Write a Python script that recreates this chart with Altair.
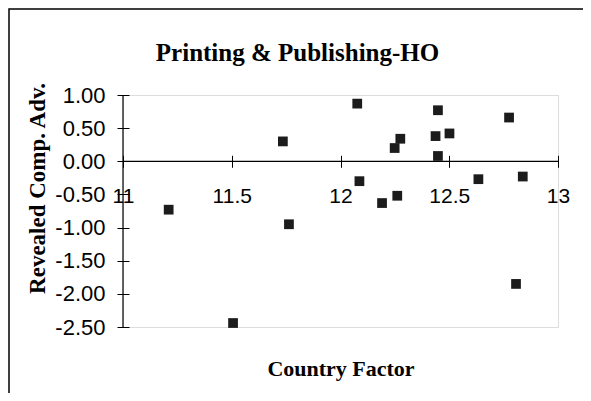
import altair as alt
import pandas as pd

# Data
country_factor = [11.21, 11.735, 11.763, 12.077, 12.087, 12.191, 12.249, 12.261, 12.275,
                  12.437, 12.448, 12.448, 12.501, 12.634, 12.775, 12.838, 12.807, 11.506]
revealed_ca = [-0.73, 0.30, -0.95, 0.87, -0.30, -0.63, 0.20, -0.52, 0.34,
               0.38, 0.77, 0.08, 0.42, -0.27, 0.66, -0.23, -1.85, -2.44]
x_ticks = [11, 11.5, 12, 12.5, 13]
y_ticks = [1, 0.5, 0, -0.5, -1, -1.5, -2, -2.5]

W, H = 435, 232
df = pd.DataFrame({"cf": country_factor, "rca": revealed_ca})

xscale = alt.Scale(domain=[11, 13], nice=False, zero=False)
yscale = alt.Scale(domain=[-2.5, 1.0], nice=False, zero=False)

zero_px_from_bottom = H * 2.5 / 3.5

x_axis = alt.Axis(
    values=x_ticks, format="~g", domain=False, grid=False,
    tickSize=12, tickColor="black", tickWidth=1,
    offset=-(zero_px_from_bottom + 6),
    labelFont="Liberation Sans", labelFontSize=21, labelColor="black",
    labelPadding=18, labelFlush=False, labelOverlap=False,
    title="Country Factor", titleFont="Liberation Serif", titleFontSize=22,
    titleFontWeight="bold", titleColor="black",
    titleX=W / 2, titleY=213, titleBaseline="middle", titleAlign="center",
)
y_axis = alt.Axis(
    values=y_ticks, domain=False, grid=False,
    labelExpr="replace(format(datum.value, '.2f'), '\u2212', '-')",
    tickSize=12, tickColor="black", tickWidth=1, offset=-6,
    labelFont="Liberation Sans", labelFontSize=22, labelColor="black",
    labelPadding=12, labelFlush=False, labelOverlap=False,
    title="Revealed Comp. Adv.", titleFont="Liberation Serif", titleFontSize=23,
    titleFontWeight="bold", titleColor="black",
    titleAngle=270, titleX=-92, titleY=93, titleBaseline="middle", titleAlign="center",
)

points = alt.Chart(df).mark_square(size=95, color="#1c1c1c", opacity=1).encode(
    x=alt.X("cf:Q", scale=xscale, axis=x_axis),
    y=alt.Y("rca:Q", scale=yscale, axis=y_axis),
)

one = pd.DataFrame({"a": [0]})
zero_line = alt.Chart(one).mark_rule(color="black", strokeWidth=1.2).encode(
    y=alt.datum(0, scale=yscale, axis=y_axis)
)
y_line = alt.Chart(one).mark_rule(color="black", strokeWidth=1.2).encode(
    x=alt.datum(11, scale=xscale, axis=x_axis)
)
frame = alt.Chart(one).mark_rect(fill=None, stroke="black", strokeWidth=1.5, clip=False).encode(
    x=alt.value(-114), x2=alt.value(W + 60), y=alt.value(-86), y2=alt.value(H + 120)
)

chart = alt.layer(frame, zero_line, y_line, points).properties(
    width=W, height=H,
    title=alt.TitleParams(
        "Printing & Publishing-HO", font="Liberation Serif", fontSize=25,
        fontWeight="bold", color="black", anchor="middle", frame="group",
        dx=-43, offset=0, dy=83, baseline="bottom",
    ),
    autosize=alt.AutoSizeParams(type="none"),
    padding={"left": 115, "top": 87, "right": 25, "bottom": 66},
).configure_view(stroke=None).configure(background="white")

chart.save("out.html", embed_options={"renderer": "svg", "actions": False})
